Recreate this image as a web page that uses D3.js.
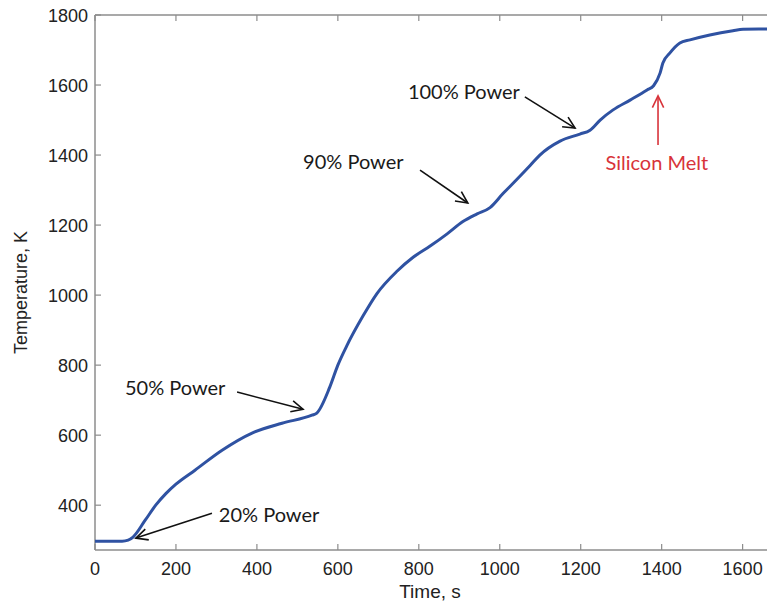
<!DOCTYPE html>
<html>
<head>
<meta charset="utf-8">
<script src="https://cdn.jsdelivr.net/npm/d3@7"></script>
<style>
  body { margin: 0; background: #fff; }
  svg { display: block; }
</style>
</head>
<body>
<div id="visArea"></div>
<script>

// time (s) and temperature (K)
var times = [0, 67, 82, 94, 124, 150, 175, 200, 247, 314, 388, 462, 536, 548, 580, 600, 622, 662, 697,
             746, 786, 828, 870, 909, 944, 976, 1008, 1042, 1075, 1099, 1149, 1198, 1223, 1248,
             1280, 1322, 1364, 1380, 1396, 1403, 1420, 1445, 1470, 1519, 1576, 1601, 1640, 1680];
var temps = [297, 297, 300, 309, 357, 400, 433, 460, 500, 557, 606, 634, 657, 663, 737, 800, 855, 940, 1005,
             1068, 1108, 1140, 1175, 1210, 1232, 1250, 1290, 1330, 1370, 1400, 1440, 1460, 1471, 1500,
             1529, 1557, 1586, 1598, 1634, 1663, 1691, 1720, 1729, 1743, 1755, 1759, 1760, 1760];

var xTicks = [0, 200, 400, 600, 800, 1000, 1200, 1400, 1600];
var yTicks = [400, 600, 800, 1000, 1200, 1400, 1600, 1800];

// annotations: label, text anchor point, arrow from / to (data units)
var noteLabels = ['20% Power', '50% Power', '90% Power', '100% Power'];
var noteText   = [[306, 371], [74, 734], [514, 1380], [773, 1580]];
var noteFrom   = [[289, 377], [351, 723], [803, 1357], [1062, 1566]];
var noteTo     = [[101, 306], [514, 674], [921, 1263], [1186, 1477]];

var meltLabel = 'Silicon Melt';
var meltText = [1388, 1377];
var meltFrom = [1391, 1429];
var meltTo = [1391, 1569];


function drawChart(){
  var W = 767, H = 607;
  var m = { left: 95, top: 15, right: 775, bottom: 550 };

  var svg = d3.select('#visArea').append('svg')
              .attr('width', W).attr('height', H);

  var x = d3.scaleLinear().domain([0, 1680]).range([m.left, m.right]);
  var y = d3.scaleLinear().domain([272, 1800]).range([m.bottom, m.top]);

  var axisCol = '#8c8c8c';
  var tickFont = '"Liberation Sans", Arial, sans-serif';

  // box (top, left, bottom)
  var box = svg.append('g');
  box.append('line').attr('x1', m.left).attr('x2', m.right).attr('y1', m.top).attr('y2', m.top);
  box.append('line').attr('x1', m.left).attr('x2', m.right).attr('y1', m.bottom).attr('y2', m.bottom);
  box.append('line').attr('x1', m.left).attr('x2', m.left).attr('y1', m.top).attr('y2', m.bottom);
  box.selectAll('line').style('stroke', axisCol).style('stroke-width', 1.5);

  // inward ticks
  var tk = svg.append('g');
  tk.selectAll('.xb').data(xTicks).enter().append('line')
    .attr('x1', function(d){ return x(d); }).attr('x2', function(d){ return x(d); })
    .attr('y1', m.bottom).attr('y2', m.bottom - 6);
  tk.selectAll('.xt').data(xTicks).enter().append('line')
    .attr('x1', function(d){ return x(d); }).attr('x2', function(d){ return x(d); })
    .attr('y1', m.top).attr('y2', m.top + 6);
  tk.selectAll('.yl').data(yTicks).enter().append('line')
    .attr('x1', m.left).attr('x2', m.left + 6)
    .attr('y1', function(d){ return y(d); }).attr('y2', function(d){ return y(d); });
  tk.selectAll('line').style('stroke', axisCol).style('stroke-width', 1.2);

  // tick labels
  svg.append('g').selectAll('text').data(xTicks).enter().append('text')
    .attr('x', function(d){ return x(d); })
    .attr('y', m.bottom + 25)
    .text(function(d){ return d; })
    .style('text-anchor', 'middle')
    .style('font-family', tickFont).style('font-size', '18px').style('fill', '#222');

  svg.append('g').selectAll('text').data(yTicks).enter().append('text')
    .attr('x', m.left - 7)
    .attr('y', function(d){ return y(d) + 6.5; })
    .text(function(d){ return d; })
    .style('text-anchor', 'end')
    .style('font-family', tickFont).style('font-size', '18px').style('fill', '#222');

  // axis titles
  svg.append('text')
    .attr('x', 430).attr('y', 598)
    .text('Time, s')
    .style('text-anchor', 'middle')
    .style('font-family', tickFont).style('font-size', '19px').style('fill', '#222');

  svg.append('text')
    .attr('transform', 'translate(27,' + ((m.top + m.bottom) / 2 + 10) + ') rotate(-90)')
    .text('Temperature, K')
    .style('text-anchor', 'middle')
    .style('font-family', tickFont).style('font-size', '18px').style('fill', '#222');

  // curve
  var pts = times.map(function(t, i){ return [t, temps[i]]; });
  var line = d3.line()
               .x(function(d){ return x(d[0]); })
               .y(function(d){ return y(d[1]); })
               .curve(d3.curveMonotoneX);
  svg.append('path')
    .datum(pts)
    .attr('d', line)
    .style('fill', 'none')
    .style('stroke', '#2f52a2')
    .style('stroke-width', 3)
    .style('stroke-linejoin', 'round');

  // annotations
  var noteFont = 'Lato, "Open Sans", sans-serif';
  var notes = svg.append('g').attr('class', 'notes');
  noteLabels.forEach(function(lab, i){
    notes.append('text')
      .attr('x', x(noteText[i][0]))
      .attr('y', y(noteText[i][1]) + 7)
      .text(lab)
      .style('font-family', noteFont).style('font-size', '20px').style('fill', '#1a1a1a');
    drawArrow(notes, x(noteFrom[i][0]), y(noteFrom[i][1]), x(noteTo[i][0]), y(noteTo[i][1]), '#111');
  });

  notes.append('text')
    .attr('x', x(meltText[0]))
    .attr('y', y(meltText[1]) + 7)
    .text(meltLabel)
    .style('text-anchor', 'middle')
    .style('font-family', noteFont).style('font-size', '20px').style('fill', '#d8333a');
  drawArrow(notes, x(meltFrom[0]), y(meltFrom[1]), x(meltTo[0]), y(meltTo[1]), '#d8333a');
}


function drawArrow(g, x1, y1, x2, y2, col){
  var a = Math.atan2(y2 - y1, x2 - x1);
  var L = 13, spread = 0.45;
  g.append('line')
    .attr('x1', x1).attr('y1', y1).attr('x2', x2).attr('y2', y2)
    .style('stroke', col).style('stroke-width', 1.6);
  var p = [[x2 - L * Math.cos(a - spread), y2 - L * Math.sin(a - spread)],
           [x2, y2],
           [x2 - L * Math.cos(a + spread), y2 - L * Math.sin(a + spread)]];
  g.append('path')
    .attr('d', d3.line()(p))
    .style('fill', 'none').style('stroke', col).style('stroke-width', 1.6);
}

drawChart();
</script>
</body>
</html>
